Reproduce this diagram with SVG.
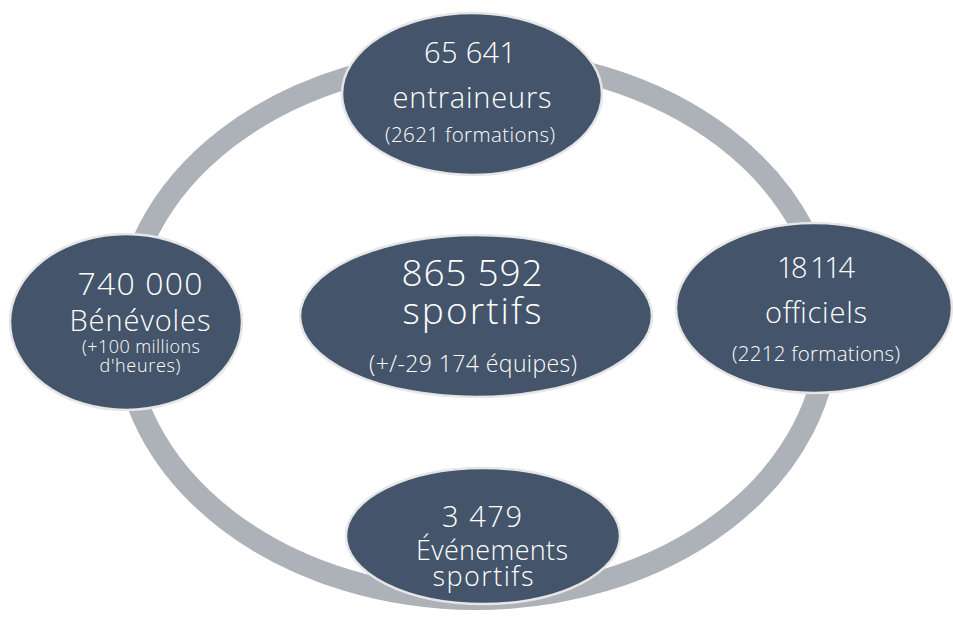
<svg xmlns="http://www.w3.org/2000/svg" width="953" height="624" viewBox="0 0 953 624">
<style>
.node{fill:#44546A;stroke:#E6E6E6;stroke-width:2.5}
.t{fill:#FFFFFF;font-family:"Open Sans","DejaVu Sans",sans-serif;font-weight:300;text-anchor:middle}
.big{font-size:29px}
.huge{font-size:37px}
.sub{font-size:20.5px}
.small{font-size:18px}
.mid{font-size:23px}
.bot{font-size:27px}
</style>
<rect width="953" height="624" fill="#FFFFFF"/>
<g id="connectors">
<ellipse cx="476" cy="329" rx="352" ry="270" fill="none" stroke="#ADB1B8" stroke-width="22"/>
</g>
<g id="node-entraineurs">
<ellipse class="node" cx="472" cy="94" rx="130" ry="81"/>
<text class="t big" x="470" y="63" textLength="92" lengthAdjust="spacing">65 641</text>
<text class="t big" x="472" y="108" textLength="159" lengthAdjust="spacing">entraineurs</text>
<text class="t sub" x="470" y="142" textLength="170" lengthAdjust="spacing">(2621 formations)</text>
</g>
<g id="node-benevoles">
<ellipse class="node" cx="126" cy="322" rx="116" ry="88"/>
<text class="t" style="font-size:32px" x="140" y="295" textLength="125" lengthAdjust="spacing">740 000</text>
<text class="t big" x="140" y="331" textLength="141" lengthAdjust="spacing">Bénévoles</text>
<text class="t small" x="141" y="353" textLength="118" lengthAdjust="spacing">(+100 millions</text>
<text class="t small" x="140" y="372" textLength="81" lengthAdjust="spacing">d'heures)</text>
</g>
<g id="node-sportifs">
<ellipse class="node" cx="476" cy="316" rx="176" ry="81"/>
<text class="t huge" x="472" y="286" textLength="141" lengthAdjust="spacing">865 592</text>
<text class="t huge" x="472" y="324" textLength="139" lengthAdjust="spacing">sportifs</text>
<text class="t mid" x="473" y="372" textLength="208" lengthAdjust="spacing">(+/-29 174 équipes)</text>
</g>
<g id="node-officiels">
<ellipse class="node" cx="814" cy="308" rx="138" ry="85"/>
<text class="t big" x="816" y="278" textLength="78" lengthAdjust="spacing">18 114</text>
<text class="t big" x="816" y="323" textLength="102" lengthAdjust="spacing">officiels</text>
<text class="t sub" x="816" y="361" textLength="168" lengthAdjust="spacing">(2212 formations)</text>
</g>
<g id="node-evenements">
<ellipse class="node" cx="483" cy="536" rx="137" ry="68"/>
<text class="t big" x="482" y="527" textLength="80" lengthAdjust="spacing">3 479</text>
<text class="t bot" x="492" y="560" textLength="152" lengthAdjust="spacing">Événements</text>
<text class="t bot" x="483" y="586" textLength="101" lengthAdjust="spacing">sportifs</text>
</g>
</svg>
